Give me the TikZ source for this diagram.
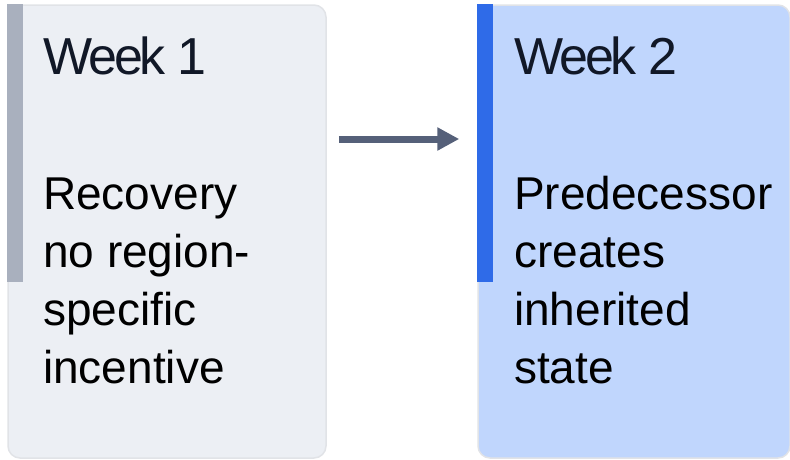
\documentclass[tikz,border=0pt]{standalone}
\usepackage{fontspec}
\setmainfont{Liberation Sans}
\newfontfamily\headfont[LetterSpace=-6]{Liberation Sans}
\usepackage{xcolor}
\usetikzlibrary{arrows.meta, positioning}

\definecolor{paneGray}{HTML}{ECEFF4}
\definecolor{paneBlue}{HTML}{C0D6FD}
\definecolor{edgeGray}{HTML}{E1E3E7}
\definecolor{barGray}{HTML}{A9B0BE}
\definecolor{barBlue}{HTML}{2F6BE8}
\definecolor{arrowSlate}{HTML}{556079}
\definecolor{inkDark}{HTML}{111827}

\begin{document}
\begin{tikzpicture}[x=1pt, y=-1pt,
    pane/.style={draw=edgeGray, line width=1.5pt, rounded corners=12pt,
        minimum height=453pt, inner sep=0pt},
    head/.style={anchor=base west, inner sep=0pt, text=inkDark,
        font=\headfont\fontsize{52}{62}\selectfont},
    body/.style={anchor=base west, inner sep=0pt, align=left, text=black,
        font=\fontsize{46}{58}\selectfont},
    flow/.style={draw=arrowSlate, line width=7pt,
        -{Triangle[length=22pt, width=22pt]}}]
    \useasboundingbox (0,0) rectangle (790,459);

    % Panes
    \node[pane, fill=paneGray, minimum width=318pt] (box1) at (167,231.5) {};
    \node[pane, fill=paneBlue, minimum width=312pt] (box2) at (634,231.5) {};

    % Accent bars
    \fill[barGray] (box1.north west) rectangle ++(16,278);
    \fill[barBlue] (box2.north west) rectangle ++(16,278);

    % Labels (body text sits on the baseline of its last line)
    \node[head] (week1) at (43,74) {Week 1};
    \node[body] (text1) at (43,383) {Recovery\\no region-\\specific\\incentive};
    \node[head] (week2) at (514,74) {Week 2};
    \node[body] (text2) at (514,383) {Predecessor\\creates\\inherited\\state};

    % Transition
    \draw[flow] ([shift={(12,-92.5)}]box1.east) -- ([shift={(-18,-92.5)}]box2.west);
\end{tikzpicture}
\end{document}
